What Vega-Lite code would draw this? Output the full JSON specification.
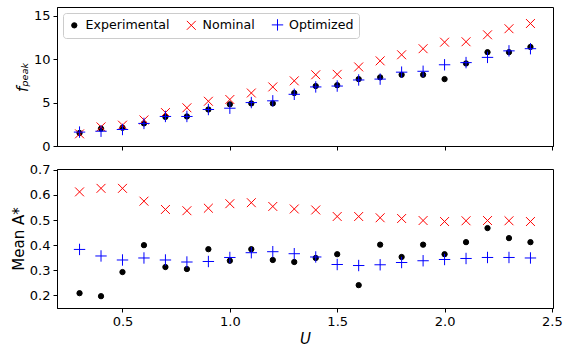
{
  "$schema": "https://vega.github.io/schema/vega-lite/v6.json",
  "padding": {"left": 10, "top": 6, "right": 6, "bottom": 0},
  "background": "white",
  "config": {
    "font": "DejaVu Sans",
    "view": {"stroke": "black", "strokeWidth": 1},
    "axis": {"grid": false, "domainColor": "black", "tickColor": "black", "tickSize": 4, "labelColor": "black", "titleColor": "black", "labelFontSize": 13, "titleFontSize": 15, "titleFontWeight": "normal", "labelPadding": 3},
    "concat": {"spacing": 9}
  },
  "datasets": {
    "pts": [
      {"U":0.3,"series":"Experimental","f":1.5,"A":0.209},
      {"U":0.4,"series":"Experimental","f":2.0,"A":0.197},
      {"U":0.5,"series":"Experimental","f":2.1,"A":0.293},
      {"U":0.6,"series":"Experimental","f":2.6,"A":0.400},
      {"U":0.7,"series":"Experimental","f":3.35,"A":0.313},
      {"U":0.8,"series":"Experimental","f":3.4,"A":0.305},
      {"U":0.9,"series":"Experimental","f":4.2,"A":0.384},
      {"U":1.0,"series":"Experimental","f":4.8,"A":0.338},
      {"U":1.1,"series":"Experimental","f":4.9,"A":0.384},
      {"U":1.2,"series":"Experimental","f":4.9,"A":0.341},
      {"U":1.3,"series":"Experimental","f":6.1,"A":0.333},
      {"U":1.4,"series":"Experimental","f":6.9,"A":0.349},
      {"U":1.5,"series":"Experimental","f":7.0,"A":0.364},
      {"U":1.6,"series":"Experimental","f":7.7,"A":0.241},
      {"U":1.7,"series":"Experimental","f":7.9,"A":0.402},
      {"U":1.8,"series":"Experimental","f":8.2,"A":0.353},
      {"U":1.9,"series":"Experimental","f":8.2,"A":0.402},
      {"U":2.0,"series":"Experimental","f":7.7,"A":0.364},
      {"U":2.1,"series":"Experimental","f":9.5,"A":0.412},
      {"U":2.2,"series":"Experimental","f":10.8,"A":0.468},
      {"U":2.3,"series":"Experimental","f":10.8,"A":0.428},
      {"U":2.4,"series":"Experimental","f":11.4,"A":0.412},
      {"U":0.3,"series":"Nominal","f":1.4,"A":0.612},
      {"U":0.4,"series":"Nominal","f":2.2,"A":0.626},
      {"U":0.5,"series":"Nominal","f":2.4,"A":0.626},
      {"U":0.6,"series":"Nominal","f":3.0,"A":0.575},
      {"U":0.7,"series":"Nominal","f":3.85,"A":0.542},
      {"U":0.8,"series":"Nominal","f":4.4,"A":0.537},
      {"U":0.9,"series":"Nominal","f":5.15,"A":0.547},
      {"U":1.0,"series":"Nominal","f":5.35,"A":0.565},
      {"U":1.1,"series":"Nominal","f":6.1,"A":0.569},
      {"U":1.2,"series":"Nominal","f":6.8,"A":0.554},
      {"U":1.3,"series":"Nominal","f":7.5,"A":0.544},
      {"U":1.4,"series":"Nominal","f":8.2,"A":0.540},
      {"U":1.5,"series":"Nominal","f":8.25,"A":0.514},
      {"U":1.6,"series":"Nominal","f":9.1,"A":0.514},
      {"U":1.7,"series":"Nominal","f":9.8,"A":0.509},
      {"U":1.8,"series":"Nominal","f":10.5,"A":0.506},
      {"U":1.9,"series":"Nominal","f":11.2,"A":0.498},
      {"U":2.0,"series":"Nominal","f":11.95,"A":0.494},
      {"U":2.1,"series":"Nominal","f":12.0,"A":0.497},
      {"U":2.2,"series":"Nominal","f":12.8,"A":0.498},
      {"U":2.3,"series":"Nominal","f":13.5,"A":0.497},
      {"U":2.4,"series":"Nominal","f":14.1,"A":0.494},
      {"U":0.3,"series":"Optimized","f":1.6,"A":0.383},
      {"U":0.4,"series":"Optimized","f":1.7,"A":0.357},
      {"U":0.5,"series":"Optimized","f":1.9,"A":0.341},
      {"U":0.6,"series":"Optimized","f":2.6,"A":0.349},
      {"U":0.7,"series":"Optimized","f":3.4,"A":0.341},
      {"U":0.8,"series":"Optimized","f":3.4,"A":0.333},
      {"U":0.9,"series":"Optimized","f":4.2,"A":0.335},
      {"U":1.0,"series":"Optimized","f":4.35,"A":0.351},
      {"U":1.1,"series":"Optimized","f":5.0,"A":0.370},
      {"U":1.2,"series":"Optimized","f":5.2,"A":0.374},
      {"U":1.3,"series":"Optimized","f":5.95,"A":0.366},
      {"U":1.4,"series":"Optimized","f":6.8,"A":0.353},
      {"U":1.5,"series":"Optimized","f":6.9,"A":0.323},
      {"U":1.6,"series":"Optimized","f":7.6,"A":0.319},
      {"U":1.7,"series":"Optimized","f":7.7,"A":0.322},
      {"U":1.8,"series":"Optimized","f":8.5,"A":0.331},
      {"U":1.9,"series":"Optimized","f":8.6,"A":0.338},
      {"U":2.0,"series":"Optimized","f":9.35,"A":0.343},
      {"U":2.1,"series":"Optimized","f":9.6,"A":0.347},
      {"U":2.2,"series":"Optimized","f":10.2,"A":0.351},
      {"U":2.3,"series":"Optimized","f":10.95,"A":0.351},
      {"U":2.4,"series":"Optimized","f":11.2,"A":0.349}
    ]
  },
  "resolve": {"legend": {"shape": "independent", "fill": "independent", "stroke": "independent", "size": "independent"}},
  "vconcat": [
    {
      "width": 496,
      "height": 139,
      "data": {"name": "pts"},
      "mark": {"type": "point", "filled": true, "strokeWidth": 1, "opacity": 1},
      "encoding": {
        "x": {"field": "U", "type": "quantitative", "scale": {"domain": [0.195, 2.505], "nice": false, "zero": false},
              "axis": {"values": [0.5, 1.0, 1.5, 2.0, 2.5], "labels": false, "title": null}},
        "y": {"field": "f", "type": "quantitative", "scale": {"domain": [0, 16], "nice": false},
              "axis": {"values": [0, 5, 10, 15], "title": "fₚₑₐₖ", "titleFontStyle": "italic", "titlePadding": 3}},
        "shape": {"field": "series", "type": "nominal",
                  "scale": {"domain": ["Experimental", "Nominal", "Optimized"], "range": ["circle", "M-1,-1L1,1M-1,1L1,-1", "M-1,0L1,0M0,-1L0,1"]},
                  "legend": {"orient": "top-left", "direction": "horizontal", "title": null, "offset": 6, "labelFontSize": 12.6, "labelOffset": 5, "columnPadding": 14, "strokeColor": "#cccccc", "fillColor": "white", "padding": 5, "cornerRadius": 3, "labelColor": "black", "symbolStrokeWidth": 1}},
        "fill": {"field": "series", "type": "nominal", "scale": {"domain": ["Experimental", "Nominal", "Optimized"], "range": ["black", "red", "blue"]}},
        "stroke": {"field": "series", "type": "nominal", "scale": {"domain": ["Experimental", "Nominal", "Optimized"], "range": ["black", "red", "blue"]}},
        "size": {"field": "series", "type": "nominal", "scale": {"domain": ["Experimental", "Nominal", "Optimized"], "range": [28, 130, 144]}}
      }
    },
    {
      "width": 496,
      "height": 139,
      "data": {"name": "pts"},
      "mark": {"type": "point", "filled": true, "strokeWidth": 1, "opacity": 1},
      "encoding": {
        "x": {"field": "U", "type": "quantitative", "scale": {"domain": [0.195, 2.505], "nice": false, "zero": false},
              "axis": {"values": [0.5, 1.0, 1.5, 2.0, 2.5], "format": ".1f", "title": "U", "titleFontStyle": "italic", "titlePadding": 3}},
        "y": {"field": "A", "type": "quantitative", "scale": {"domain": [0.15, 0.703], "nice": false, "zero": false},
              "axis": {"values": [0.2, 0.3, 0.4, 0.5, 0.6, 0.7], "format": ".1f", "title": "Mean A*", "titlePadding": 3}},
        "shape": {"field": "series", "type": "nominal", "legend": null,
                  "scale": {"domain": ["Experimental", "Nominal", "Optimized"], "range": ["circle", "M-1,-1L1,1M-1,1L1,-1", "M-1,0L1,0M0,-1L0,1"]}},
        "fill": {"field": "series", "type": "nominal", "legend": null, "scale": {"domain": ["Experimental", "Nominal", "Optimized"], "range": ["black", "red", "blue"]}},
        "stroke": {"field": "series", "type": "nominal", "legend": null, "scale": {"domain": ["Experimental", "Nominal", "Optimized"], "range": ["black", "red", "blue"]}},
        "size": {"field": "series", "type": "nominal", "legend": null, "scale": {"domain": ["Experimental", "Nominal", "Optimized"], "range": [28, 130, 144]}}
      }
    }
  ]
}
